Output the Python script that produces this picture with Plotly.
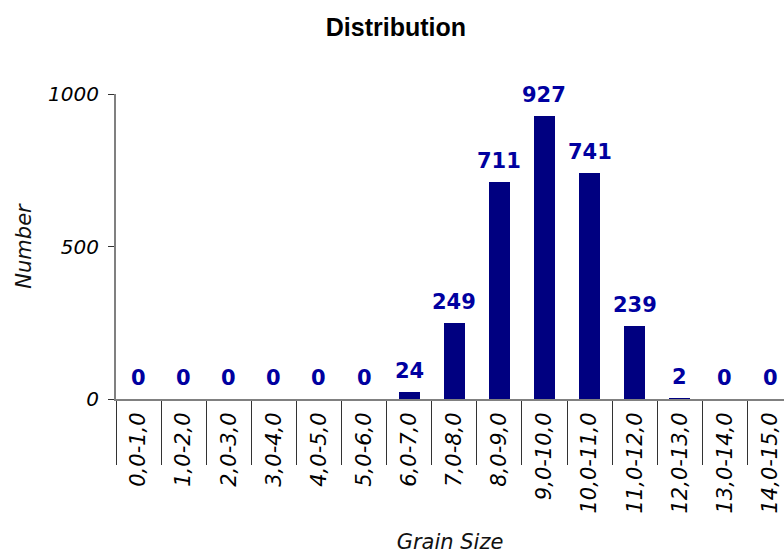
import plotly.graph_objects as go

# Dados do gráfico
categorias = ["0,0-1,0", "1,0-2,0", "2,0-3,0", "3,0-4,0", "4,0-5,0",
              "5,0-6,0", "6,0-7,0", "7,0-8,0", "8,0-9,0", "9,0-10,0",
              "10,0-11,0", "11,0-12,0", "12,0-13,0", "13,0-14,0", "14,0-15,0"]
quantidade = [0, 0, 0, 0, 0, 0, 24, 249, 711, 927, 741, 239, 2, 0, 0]
ticks_y = [0, 500, 1000]

FONTE = "DejaVu Sans"

fig = go.Figure()

# Barras
fig.add_trace(
    go.Bar(
        x=categorias,
        y=quantidade,
        width=0.46,
        marker=dict(color="#000080", line=dict(width=0)),
        showlegend=False,
    )
)

# Valor em cima de cada barra
for cat, val in zip(categorias, quantidade):
    fig.add_annotation(
        x=cat,
        y=val,
        text=f"<b>{val}</b>",
        showarrow=False,
        yanchor="bottom",
        yshift=7,
        font=dict(family=FONTE, size=21, color="#0000A0"),
    )

fig.update_layout(
    width=784,
    height=554,
    plot_bgcolor="white",
    paper_bgcolor="white",
    margin=dict(l=116, r=0, t=94, b=155, autoexpand=False),
    title=dict(
        text="<b>Distribution</b>",
        x=0.505,
        xanchor="center",
        y=1 - 27 / 554,
        yanchor="middle",
        yref="container",
        automargin=False,
        font=dict(family="Liberation Sans", size=25, color="black"),
    ),
    bargap=0,
)

fig.update_xaxes(
    type="category",
    range=[-0.5, 14.31],
    automargin=False,
    tickangle=-90,
    ticks="outside",
    tickson="boundaries",
    ticklen=64,
    tickwidth=1,
    tickcolor="#333333",
    ticklabelstandoff=3,
    showline=True,
    linecolor="#808080",
    linewidth=2,
    showgrid=False,
    tickfont=dict(family=FONTE, size=21, color="black", style="italic"),
    title=dict(
        text="Grain Size",
        standoff=22,
        font=dict(family=FONTE, size=21, color="#111111", style="italic"),
    ),
)

fig.update_yaxes(
    range=[0, 1000],
    automargin=False,
    tickvals=ticks_y,
    ticks="outside",
    ticklen=6,
    tickwidth=1,
    tickcolor="#333333",
    ticklabelstandoff=5,
    showline=True,
    linecolor="#808080",
    linewidth=2,
    showgrid=False,
    zeroline=False,
    tickfont=dict(family=FONTE, size=20, color="black", style="italic"),
    title=dict(
        text="Number",
        standoff=11,
        font=dict(family=FONTE, size=21, color="#111111", style="italic"),
    ),
)

# tira a margem padrão da página e a barra de ferramentas
fig.write_html(
    "out.html",
    config={"displayModeBar": False},
    post_script="document.body.style.margin='0';",
)
